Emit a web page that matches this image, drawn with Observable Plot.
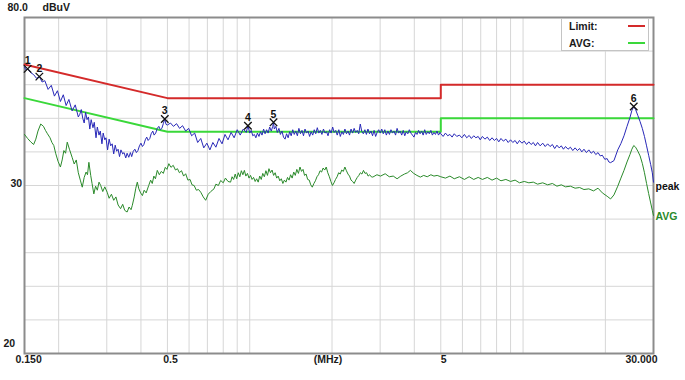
<!DOCTYPE html>
<html><head><meta charset="utf-8">
<script src="https://cdn.jsdelivr.net/npm/d3@7"></script>
<script src="https://cdn.jsdelivr.net/npm/@observablehq/plot@0.6"></script>
<style>
body{margin:0;background:#fff;}
#wrap{position:relative;width:685px;height:380px;font-family:'Liberation Sans',Arial,sans-serif;font-weight:bold;font-size:10.5px;color:#1a1a1a;}
#legend{position:absolute;left:561px;top:18px;width:86px;height:31px;border:1px solid #c4c4c4;background:#fff;}
.lgt{position:absolute;left:7px;line-height:12px;}
.lgl{position:absolute;left:66px;width:17px;height:2px;}
</style></head><body>
<div id="wrap"><div id="legend">
<span class="lgt" style="top:1px">Limit:</span><div class="lgl" style="top:6px;background:#d42a2a"></div>
<span class="lgt" style="top:18px">AVG:</span><div class="lgl" style="top:23px;background:#3ad83a"></div>
</div></div>
<script>
// Axis ticks / grid
const xGrid = [0.2,0.3,0.4,0.5,0.6,0.7,0.8,0.9,1,2,3,4,5,6,7,8,9,10,20];
const yGrid = [-10,0,10,20,30,40,50,60,70];
const xTickValues = [0.15, 0.5, 5, 30];
const xTickLabels = ["0.150", "0.5", "5", "30.000"];
const yTickValues = [80, 30, -20];
const yTickLabels = ["80.0", "30", "20"];

// Limit lines (CISPR class B)
const limitFreq = [0.15, 0.5, 5, 5, 30];
const qpLimit   = [66, 56, 56, 60, 60];
const avgLimit  = [56, 46, 46, 50, 50];

// Peak trace [MHz, dBuV]
const peakTrace = [
[0.150,65.2],[0.152,64.4],[0.154,64.7],[0.158,63.6],[0.162,63.0],[0.166,61.9],[0.170,62.4],[0.174,60.8],[0.178,61.2],
[0.183,58.6],[0.188,59.8],[0.193,56.6],[0.198,58.2],[0.203,55.0],[0.208,57.0],[0.213,53.8],[0.218,55.6],[0.224,52.2],
[0.230,54.0],[0.236,50.4],[0.239,51.2],[0.242,52.6],[0.245,50.0],[0.248,48.6],[0.251,51.8],[0.254,49.6],[0.257,50.4],
[0.260,46.8],[0.263,49.6],[0.267,47.2],[0.270,48.8],[0.274,44.2],[0.277,47.4],[0.281,45.0],[0.284,46.2],[0.288,42.4],
[0.291,45.6],[0.295,43.6],[0.298,44.2],[0.302,40.6],[0.306,43.8],[0.310,41.8],[0.314,42.4],[0.318,39.4],[0.322,42.0],
[0.326,40.2],[0.330,40.8],[0.334,38.6],[0.338,40.6],[0.343,39.4],[0.347,39.8],[0.352,38.2],[0.356,39.6],[0.361,38.4],
[0.366,39.8],[0.370,38.6],[0.375,40.2],[0.380,40.8],[0.385,39.8],[0.390,40.4],[0.395,41.8],[0.400,42.6],[0.405,41.6],
[0.410,42.2],[0.415,43.6],[0.420,44.4],[0.425,43.4],[0.431,44.0],[0.436,45.4],[0.442,46.2],[0.447,45.0],[0.453,45.6],
[0.459,47.0],[0.465,47.6],[0.471,46.6],[0.477,47.0],[0.483,48.4],[0.489,49.8],[0.494,48.2],[0.500,48.0],
[0.513,48.6],[0.526,47.6],[0.540,48.4],[0.554,47.0],[0.568,47.8],[0.583,46.2],[0.598,47.0],[0.613,44.8],[0.629,45.6],
[0.645,42.8],[0.662,44.0],[0.679,41.2],[0.697,42.6],[0.715,40.6],[0.733,42.8],[0.752,41.4],[0.772,44.0],[0.792,42.4],
[0.812,45.2],[0.833,43.6],[0.855,45.8],[0.877,44.2],[0.900,46.6],[0.923,45.0],[0.947,46.8],[0.971,45.8],[0.985,47.8],
[1.000,45.6],[1.013,46.4],[1.026,44.8],[1.040,45.2],[1.053,44.2],[1.067,45.6],[1.081,44.6],[1.095,46.0],[1.109,45.0],
[1.124,46.8],[1.138,45.4],[1.153,46.6],[1.168,45.6],[1.183,47.4],[1.199,46.2],[1.214,47.6],[1.222,48.8],[1.230,46.8],
[1.246,47.6],[1.262,45.8],[1.279,47.0],[1.295,45.2],[1.312,46.2],[1.329,44.4],[1.347,43.8],[1.364,45.4],[1.382,44.2],
[1.400,46.0],[1.418,44.8],[1.437,46.6],[1.455,45.2],[1.474,46.2],[1.494,44.8],[1.513,47.0],[1.533,45.4],[1.553,46.4],
[1.573,44.8],[1.593,46.8],[1.614,45.6],[1.635,46.2],[1.656,44.6],[1.678,46.0],[1.700,45.0],[1.722,46.6],[1.744,45.4],
[1.767,47.2],[1.790,45.6],[1.813,46.4],[1.837,45.2],[1.861,46.8],[1.885,45.6],[1.910,46.0],[1.934,44.8],[1.960,46.6],
[1.985,45.6],[2.011,47.4],[2.037,45.8],[2.064,46.4],[2.090,45.0],[2.118,46.6],[2.145,44.6],[2.173,46.0],[2.201,45.2],
[2.230,46.8],[2.259,45.4],[2.289,46.2],[2.318,45.0],[2.348,46.8],[2.379,45.6],[2.410,47.0],[2.441,45.8],[2.473,46.4],
[2.505,45.4],[2.538,48.3],[2.571,46.0],[2.604,45.4],[2.638,46.6],[2.672,45.2],[2.707,46.8],[2.742,45.4],[2.778,46.2],
[2.814,44.8],[2.851,46.4],[2.888,44.6],[2.925,45.8],[2.963,46.6],[3.002,45.6],[3.041,46.8],[3.080,45.4],[3.120,46.6],
[3.161,45.0],[3.202,46.2],[3.244,45.2],[3.286,46.6],[3.329,45.6],[3.372,46.2],[3.416,45.0],[3.460,47.0],[3.505,45.6],
[3.551,46.2],[3.597,45.0],[3.644,46.4],[3.691,44.8],[3.739,46.0],[3.788,45.4],[3.837,46.6],[3.887,45.6],[3.938,45.0],
[3.989,44.4],[4.041,45.8],[4.093,45.2],[4.146,46.4],[4.200,45.4],[4.255,46.2],[4.310,45.0],[4.366,46.6],[4.423,45.2],
[4.481,46.0],[4.539,45.4],[4.598,46.4],[4.658,45.0],[4.718,45.8],[4.780,45.2],[4.842,46.2],[4.905,45.0],[4.969,45.8],
[5.000,45.4],[5.1,44.6],[5.2,45.6],[5.3,44.8],[5.4,45.2],[5.5,44.4],[5.6,45.4],[5.72,44.6],[5.85,45.0],[5.97,44.2],
[6.1,45.2],[6.22,44.2],[6.35,44.9],[6.47,44.0],[6.6,44.8],[6.72,44.2],[6.85,44.6],[6.97,43.6],[7.1,44.6],[7.25,43.8],
[7.4,44.4],[7.55,43.4],[7.7,44.2],[7.85,43.4],[8.0,44.0],[8.15,43.0],[8.3,44.0],[8.47,43.2],[8.65,43.8],[8.82,42.8],
[9.0,43.6],[9.17,42.8],[9.35,43.4],[9.52,42.4],[9.7,43.4],[9.9,42.6],[10.1,43.2],[10.3,42.2],[10.5,43.0],[10.7,42.2],
[10.9,42.8],[11.1,41.8],[11.3,42.8],[11.55,41.8],[11.8,42.6],[12.05,41.6],[12.3,42.4],[12.55,41.6],[12.8,42.2],[13.05,41.0],
[13.3,42.0],[13.55,41.2],[13.8,41.8],[14.05,40.8],[14.3,41.6],[14.6,40.8],[14.9,41.4],[15.2,40.4],[15.5,41.2],[15.8,40.4],
[16.1,41.0],[16.4,40.0],[16.7,40.8],[17.05,39.8],[17.4,40.6],[17.75,39.6],[18.1,40.2],[18.45,39.2],[18.8,39.8],[19.15,38.8],
[19.5,39.0],[19.9,37.8],[20.3,38.0],[20.6,37.0],[20.9,36.8],[21.5,37.4],[22.2,40.6],[22.8,42.5],
[23.4,44.8],[24.0,47.6],[24.6,50.2],[25.0,52.3],[25.4,53.5],[25.8,52.6],[26.3,50.8],[26.8,49.0],[27.3,47.0],[27.8,44.6],
[28.3,41.8],[28.8,39.0],[29.3,36.2],[29.7,33.8],[30.0,31.0]
];

// Average trace [MHz, dBuV]
const avgTrace = [
[0.150,45.2],[0.154,44.0],[0.158,43.0],[0.162,42.2],[0.165,43.8],[0.168,46.2],[0.172,48.3],[0.176,47.6],[0.179,46.4],
[0.182,45.4],[0.186,44.2],[0.189,42.8],[0.192,41.9],[0.195,39.6],[0.199,37.2],[0.203,35.5],[0.206,37.6],[0.209,40.4],
[0.212,39.6],[0.215,42.9],[0.219,40.8],[0.224,38.4],[0.228,36.4],[0.232,37.6],[0.236,33.8],[0.240,31.6],[0.244,29.5],
[0.248,32.4],[0.252,34.0],[0.255,33.2],[0.258,36.9],[0.262,33.0],[0.265,30.6],[0.269,27.5],[0.273,29.8],[0.277,28.6],
[0.281,31.0],[0.285,30.0],[0.290,28.2],[0.295,29.6],[0.301,28.0],[0.306,26.2],[0.312,27.4],[0.318,25.6],[0.324,26.6],
[0.330,24.2],[0.337,23.1],[0.343,24.4],[0.349,22.6],[0.356,22.1],[0.362,23.6],[0.368,22.8],[0.372,24.1],[0.378,26.6],
[0.383,29.2],[0.388,31.0],[0.393,29.0],[0.399,27.8],[0.405,27.0],[0.411,28.6],[0.418,27.8],[0.427,30.0],[0.434,31.6],
[0.440,30.6],[0.446,32.8],[0.452,32.0],[0.459,34.5],[0.467,33.2],[0.475,34.2],[0.483,33.6],[0.491,35.4],[0.498,34.8],
[0.506,36.5],[0.515,35.4],[0.525,36.0],[0.535,34.6],[0.544,35.0],[0.553,33.8],[0.563,34.4],[0.573,32.8],[0.583,33.5],
[0.594,31.6],[0.605,31.8],[0.615,30.2],[0.626,30.0],[0.638,28.6],[0.650,28.8],[0.662,28.0],[0.676,26.6],[0.690,25.6],
[0.705,27.4],[0.720,28.2],[0.740,29.0],[0.752,30.4],[0.768,30.0],[0.783,31.5],[0.800,30.8],[0.815,32.2],[0.833,31.2],
[0.851,31.0],[0.862,32.6],[0.873,31.8],[0.885,33.4],[0.896,32.0],[0.908,33.8],[0.920,32.6],[0.932,34.4],[0.944,33.2],
[0.956,34.5],[0.968,32.8],[0.981,33.6],[0.994,32.2],[1.007,33.0],[1.020,31.8],[1.033,32.4],[1.047,31.2],[1.060,32.0],
[1.074,31.0],[1.088,32.8],[1.102,31.8],[1.116,33.6],[1.131,32.6],[1.146,34.4],[1.161,33.0],[1.176,35.0],[1.191,33.8],
[1.207,34.6],[1.223,33.0],[1.239,33.8],[1.255,32.2],[1.271,32.8],[1.288,31.4],[1.305,32.0],[1.322,30.6],[1.339,31.6],
[1.357,31.0],[1.375,32.4],[1.393,31.6],[1.411,33.2],[1.430,32.2],[1.449,34.0],[1.468,33.0],[1.487,34.8],[1.507,33.6],
[1.527,35.5],[1.547,34.2],[1.567,34.8],[1.587,33.0],[1.608,33.4],[1.629,31.8],[1.651,31.6],[1.672,30.2],[1.694,29.5],
[1.717,30.6],[1.739,31.4],[1.762,32.6],[1.785,33.2],[1.809,34.4],[1.832,34.0],[1.856,35.2],[1.881,34.6],[1.905,35.5],
[1.930,33.8],[1.956,32.6],[1.981,31.2],[2.007,30.0],[2.034,30.8],[2.060,31.8],[2.088,32.6],[2.115,33.8],[2.143,33.4],
[2.171,34.6],[2.200,34.2],[2.229,35.5],[2.258,34.4],[2.288,33.4],[2.318,32.8],[2.348,31.6],[2.379,31.2],[2.410,30.6],
[2.442,31.6],[2.474,32.4],[2.507,33.0],[2.540,33.8],[2.573,33.4],[2.607,34.5],[2.641,33.6],[2.676,33.8],[2.711,32.8],
[2.747,33.2],[2.783,32.6],[2.820,32.5],[2.920,33.2],[3.010,32.8],[3.130,33.5],[3.240,32.6],[3.350,32.8],[3.460,32.0],
[3.570,32.8],[3.680,33.4],[3.780,33.8],[3.870,34.5],[3.980,33.6],[4.090,33.0],[4.210,32.5],[4.330,33.0],[4.460,32.6],
[4.600,33.2],[4.720,32.8],[4.850,33.0],[5.000,32.6],
[5.2,32.2],[5.4,32.8],[5.6,32.0],[5.85,32.6],[6.1,31.8],[6.35,32.6],[6.6,31.8],[6.85,32.4],[7.1,31.8],[7.4,32.4],
[7.7,31.6],[8.0,32.2],[8.3,31.4],[8.65,31.8],[9.0,31.2],[9.35,31.6],[9.7,30.8],[10.1,31.2],[10.5,30.8],[10.9,31.0],
[11.3,30.4],[11.8,30.8],[12.3,30.2],[12.8,30.6],[13.3,29.8],[13.8,30.2],[14.3,29.6],[14.9,29.8],[15.5,29.2],[16.1,29.4],
[16.7,28.8],[17.4,29.0],[18.1,28.4],[18.8,29.2],[19.5,27.8],[20.3,26.8],[20.9,26.0],[21.5,27.2],[22.2,29.8],[22.8,32.2],
[23.4,34.5],[24.0,37.0],[24.6,39.2],[25.0,40.8],[25.4,41.9],[25.8,41.4],[26.3,40.2],[26.8,38.8],[27.3,36.6],[27.8,33.8],
[28.3,30.6],[28.8,27.6],[29.3,24.8],[29.7,22.6],[30.0,21.1]
];

// Peak markers
const markerFreq  = [0.154, 0.170, 0.489, 0.985, 1.222, 25.4];
const markerLevel = [64.7, 62.4, 49.8, 47.8, 48.8, 53.5];
const markerLabel = ["1", "2", "3", "4", "5", "6"];

const qpRows  = limitFreq.map((f, i) => ({f, v: qpLimit[i]}));
const avRows  = limitFreq.map((f, i) => ({f, v: avgLimit[i]}));
const markers = markerFreq.map((f, i) => ({f, v: markerLevel[i], t: markerLabel[i]}));
const yT = yTickValues.map((v, i) => ({v, t: yTickLabels[i]}));
const xT = xTickValues.map((v, i) => ({v, t: xTickLabels[i]}));
const peakEnd = [peakTrace[peakTrace.length - 1]];
const avgEnd  = [avgTrace[avgTrace.length - 1]];

const ff = "'Liberation Sans', Arial, sans-serif";
const chart = Plot.plot({
  width: 685, height: 380,
  marginLeft: 24, marginRight: 32, marginTop: 17, marginBottom: 27,
  style: {fontFamily: ff, fontSize: "10.5px", fontWeight: "bold", background: "transparent", color: "#1a1a1a"},
  x: {type: "log", domain: [0.15, 30], axis: null},
  y: {domain: [-20, 80], axis: null},
  marks: [
    Plot.ruleX(xGrid, {stroke: "#d6d6d6", strokeWidth: 1}),
    Plot.ruleY(yGrid, {stroke: "#d6d6d6", strokeWidth: 1}),
    Plot.frame({stroke: "#8c8c8c", strokeWidth: 2}),
    Plot.line(qpRows, {x: "f", y: "v", stroke: "#d42a2a", strokeWidth: 2}),
    Plot.line(avRows, {x: "f", y: "v", stroke: "#3ad83a", strokeWidth: 2}),
    Plot.line(avgTrace, {stroke: "#2a8a2a", strokeWidth: 1}),
    Plot.line(peakTrace, {stroke: "#2828b8", strokeWidth: 1}),
    Plot.dot(markers, {x: "f", y: "v", symbol: "times", r: 3.5, stroke: "#111", strokeWidth: 1.3}),
    Plot.text(markers, {x: "f", y: "v", text: "t", dy: -8, fill: "#111"}),
    Plot.text(peakEnd, {text: () => "peak", textAnchor: "start", dx: 2, dy: 4, fill: "#111"}),
    Plot.text(avgEnd, {text: () => "AVG", textAnchor: "start", dx: 2, dy: 1, fill: "#2a8a2a"}),
    // y tick labels
    Plot.text(yT.slice(0, 1), {y: "v", text: "t", frameAnchor: "left", textAnchor: "start", dx: -17, dy: -10}),
    Plot.text(yT.slice(0, 1), {y: "v", text: () => "dBuV", frameAnchor: "left", textAnchor: "start", dx: 18, dy: -10}),
    Plot.text(yT.slice(1, 2), {y: "v", text: "t", frameAnchor: "left", textAnchor: "start", dx: -14, dy: -2}),
    Plot.text(yT.slice(2, 3), {y: "v", text: "t", frameAnchor: "left", textAnchor: "start", dx: -21, dy: -10}),
    // x tick labels
    Plot.text(xT.slice(0, 1), {x: "v", text: "t", frameAnchor: "bottom", textAnchor: "start", dx: -9, dy: 9}),
    Plot.text(xT.slice(1, 3), {x: "v", text: "t", frameAnchor: "bottom", dx: 3, dy: 9}),
    Plot.text(xT.slice(3, 4), {x: "v", text: "t", frameAnchor: "bottom", textAnchor: "end", dx: 4, dy: 9}),
    Plot.text([0], {text: () => "(MHz)", frameAnchor: "bottom", dx: -11, dy: 9})
  ]
});
document.getElementById("wrap").prepend(chart);
</script>
</body></html>
